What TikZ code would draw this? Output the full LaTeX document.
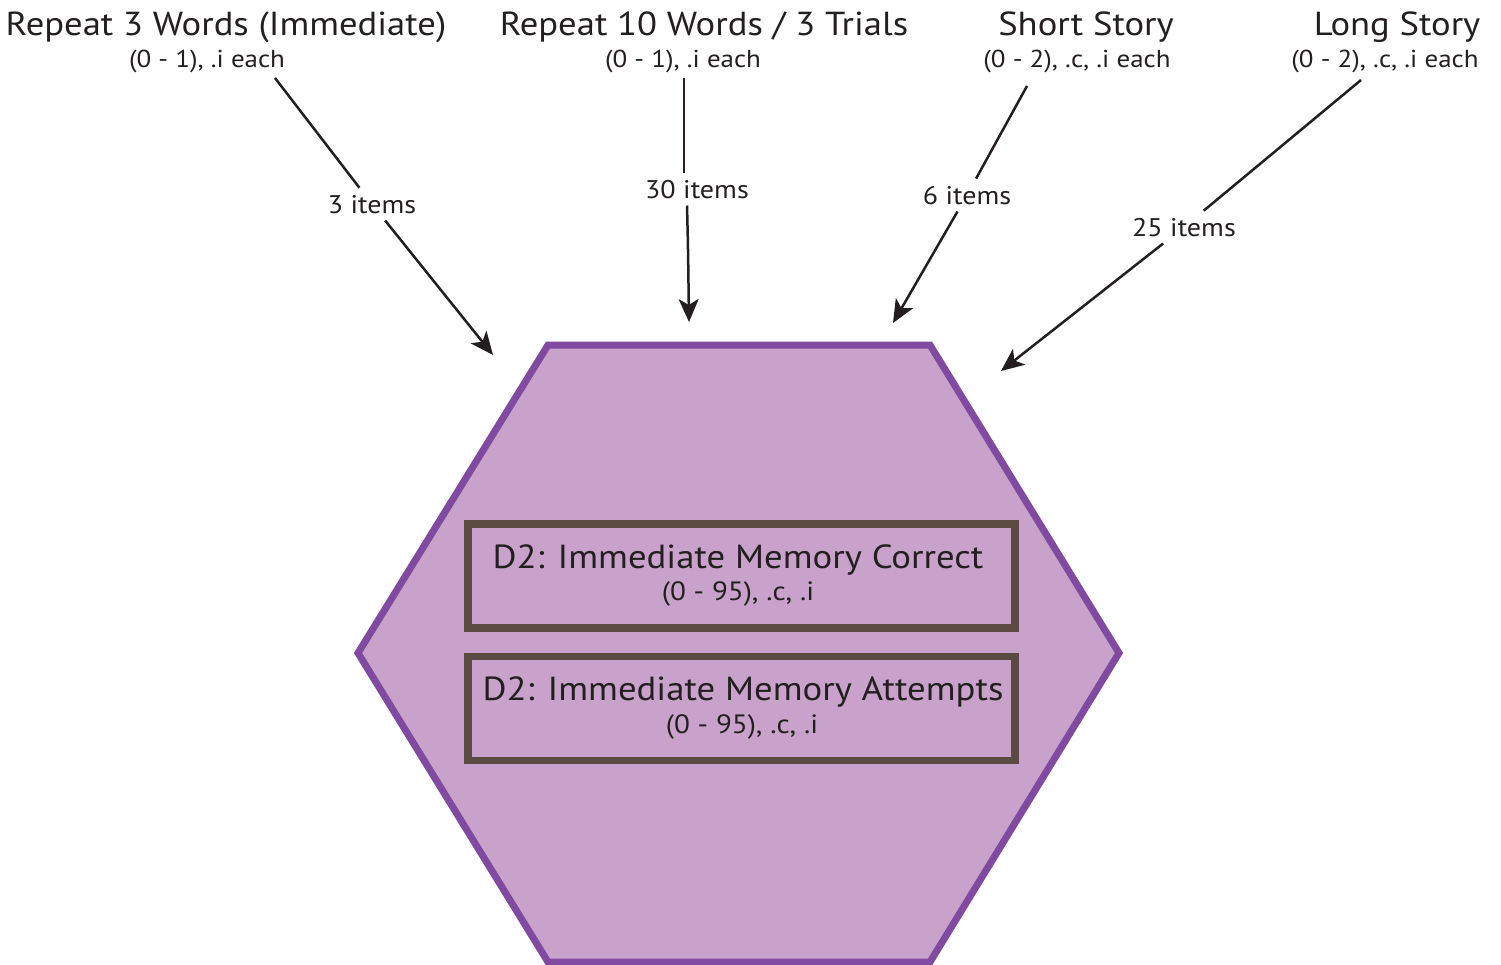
\documentclass[tikz,border=0pt]{standalone}
\usepackage{fontspec}
\setmainfont[FakeStretch=1.1]{PT Sans}
\usetikzlibrary{arrows.meta}
\definecolor{hexfill}{HTML}{C9A2CB}
\definecolor{hexline}{HTML}{7F4A9F}
\definecolor{boxline}{HTML}{5A4A42}
\definecolor{ink}{HTML}{231F20}
\tikzset{
  title/.style={anchor=base, inner sep=0pt, text=ink, font=\fontsize{33.3}{38}\selectfont},
  sub/.style={anchor=base, inner sep=0pt, text=ink, font=\fontsize{24.5}{28}\selectfont},
  lbl/.style={anchor=base, inner sep=7pt, text=ink, font=\fontsize{25.5}{28}\selectfont},
  boxtitle/.style={anchor=base, inner sep=0pt, text=ink, font=\fontsize{33.4}{38}\selectfont},
  boxsub/.style={anchor=base, inner sep=0pt, text=ink, font=\fontsize{26.5}{30}\selectfont},
  conn/.style={draw=ink, line width=2.5pt},
  arr/.style={conn, -{Stealth[length=23pt,width=20pt,inset=6pt]}},
  membox/.style={draw=boxline, line width=7.5pt, minimum width=547pt, minimum height=104pt, inner sep=0pt},
}
\begin{document}
\begin{tikzpicture}[x=1pt,y=-1pt]
\useasboundingbox (0,0) rectangle (1501,964);
% hexagon
\draw[fill=hexfill, draw=hexline, line width=7pt, line join=miter]
  (548,345) -- (930,345) -- (1119,653) -- (930,962) -- (548,962) -- (358,653) -- cycle;
% boxes
\node[membox] (b1) at (741.5,576) {};
\node[membox] (b2) at (741.5,708.5) {};
\node[boxtitle] (b1t) at (738,568) {D2: Immediate Memory Correct};
\node[boxsub] (b1s) at (738,600) {(0 - 95), .c, .i};
\node[boxtitle] (b2t) at (743,700) {D2: Immediate Memory Attempts};
\node[boxsub] (b2s) at (742,733) {(0 - 95), .c, .i};
% titles
\node[title] (t1) at (226,35) {Repeat 3 Words (Immediate)};
\node[sub] (u1) at (207,67) {(0 - 1), .i each};
\node[title] (t2) at (704,35) {Repeat 10 Words / 3 Trials};
\node[sub] (u2) at (683,67) {(0 - 1), .i each};
\node[title] (t3) at (1086,35) {Short Story};
\node[sub] (u3) at (1077,67) {(0 - 2), .c, .i each};
\node[title] (t4) at (1397,35) {Long Story};
\node[sub] (u4) at (1385,67) {(0 - 2), .c, .i each};
% labels
\node[lbl] (l1) at (372,213) {3 items};
\node[lbl] (l2) at (697,198) {30 items};
\node[lbl] (l3) at (967,204) {6 items};
\node[lbl] (l4) at (1184,236) {25 items};
% connector ends
\coordinate (s1) at (275,78);
\coordinate (s2) at (684,78);
\coordinate (s3) at (1027,86);
\coordinate (s4) at (1361,80);
\coordinate (e1) at (493,355);
\coordinate (e2) at (689,322);
\coordinate (e3) at (893,323);
\coordinate (e4) at (1001,371);
% connectors
\draw[conn] (s1) -- (l1);
\draw[arr] (l1) -- (e1);
\draw[conn] (s2) -- (s2 |- l2.north);
\draw[arr] (e2 |- l2.south) ++(-2,0) .. controls +(1,40) .. (e2);
\draw[conn] (s3) -- (l3);
\draw[arr] (l3) -- (e3);
\draw[conn] (s4) -- (l4);
\draw[arr] (l4) -- (e4);
\end{tikzpicture}
\end{document}
